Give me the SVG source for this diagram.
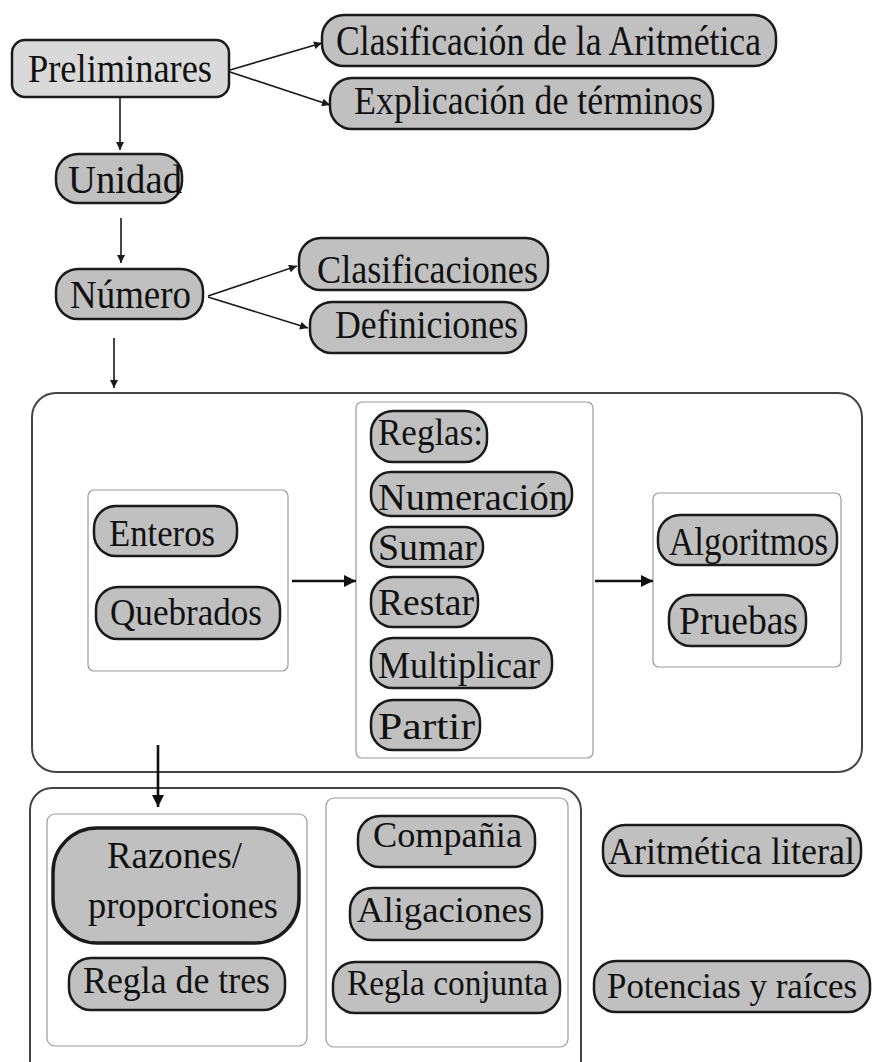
<svg xmlns="http://www.w3.org/2000/svg" width="873" height="1062" viewBox="0 0 873 1062">
  <style>
    .node { fill: #c0c0c0; stroke: #1a1a1a; stroke-width: 2.5; }
    .light { fill: #d9d9d9; }
    .heavy { stroke-width: 3.5; }
    .frame { fill: #ffffff; stroke: #444444; stroke-width: 2; }
    .panel { fill: #ffffff; stroke: #9a9a9a; stroke-width: 1.2; }
    .link { fill: none; stroke: #1a1a1a; stroke-width: 1.6; }
    .link-bold { fill: none; stroke: #111111; stroke-width: 2.6; }
    .label { fill: #111111; font-family: "Liberation Serif", "DejaVu Serif", serif; }
  </style>
  <defs>
    <marker id="head" viewBox="0 0 10 10" refX="10" refY="5" markerWidth="9" markerHeight="8" markerUnits="userSpaceOnUse" orient="auto">
      <path d="M0,0 L10,5 L0,10 z" fill="#1a1a1a"/>
    </marker>
    <marker id="head-bold" viewBox="0 0 10 10" refX="10" refY="5" markerWidth="13" markerHeight="12" markerUnits="userSpaceOnUse" orient="auto">
      <path d="M0,0 L10,5 L0,10 z" fill="#111111"/>
    </marker>
  </defs>

  <!-- outer frames and grouping panels -->
  <g id="frame-operations">
    <rect class="frame" x="32" y="393" width="830" height="379" rx="24"/>
    <rect class="panel" x="88" y="490" width="200" height="181" rx="6"/>
    <rect class="panel" x="356" y="402" width="237" height="356" rx="6"/>
    <rect class="panel" x="653" y="493" width="188" height="174" rx="6"/>
  </g>
  <g id="frame-applications">
    <rect class="frame" x="30" y="788" width="551" height="300" rx="22"/>
    <rect class="panel" x="47" y="814" width="260" height="232" rx="8"/>
    <rect class="panel" x="326" y="798" width="242" height="249" rx="8"/>
  </g>

  <!-- connectors -->
  <g id="connectors">
    <line class="link" x1="230" y1="70" x2="322" y2="43" marker-end="url(#head)"/>
    <line class="link" x1="230" y1="72" x2="330" y2="105" marker-end="url(#head)"/>
    <line class="link" x1="120" y1="98" x2="120" y2="150" marker-end="url(#head)"/>
    <line class="link" x1="121" y1="218" x2="121" y2="263" marker-end="url(#head)"/>
    <line class="link" x1="208" y1="296" x2="297" y2="266" marker-end="url(#head)"/>
    <line class="link" x1="208" y1="297" x2="308" y2="328" marker-end="url(#head)"/>
    <line class="link" x1="114" y1="338" x2="114" y2="388" marker-end="url(#head)"/>
    <line class="link-bold" x1="292" y1="581" x2="356" y2="581" marker-end="url(#head-bold)"/>
    <line class="link-bold" x1="595" y1="581" x2="653" y2="581" marker-end="url(#head-bold)"/>
    <line class="link-bold" x1="158" y1="745" x2="158" y2="807" marker-end="url(#head-bold)"/>
  </g>

  <!-- nodes -->
  <g id="preliminares">
    <rect class="node light" x="12" y="40" width="217" height="57" rx="13"/>
    <text class="label" x="28" y="82" font-size="41" textLength="184" lengthAdjust="spacingAndGlyphs">Preliminares</text>
  </g>
  <g id="clasificacion-aritmetica">
    <rect class="node" x="322" y="15" width="454" height="51" rx="22"/>
    <text class="label" x="336" y="55" font-size="43" textLength="425" lengthAdjust="spacingAndGlyphs">Clasificación de la Aritmética</text>
  </g>
  <g id="explicacion-terminos">
    <rect class="node" x="330" y="78" width="383" height="51" rx="22"/>
    <text class="label" x="354" y="114" font-size="40" textLength="349" lengthAdjust="spacingAndGlyphs">Explicación de términos</text>
  </g>
  <g id="unidad">
    <rect class="node" x="56" y="154" width="126" height="49" rx="22"/>
    <text class="label" x="68" y="193" font-size="40" textLength="114" lengthAdjust="spacingAndGlyphs">Unidad</text>
  </g>
  <g id="numero">
    <rect class="node" x="56" y="269" width="147" height="50" rx="22"/>
    <text class="label" x="70" y="308" font-size="40" textLength="121" lengthAdjust="spacingAndGlyphs">Número</text>
  </g>
  <g id="clasificaciones">
    <rect class="node" x="299" y="238" width="249" height="52" rx="22"/>
    <text class="label" x="317" y="283" font-size="40" textLength="221" lengthAdjust="spacingAndGlyphs">Clasificaciones</text>
  </g>
  <g id="definiciones">
    <rect class="node" x="310" y="302" width="216" height="51" rx="22"/>
    <text class="label" x="335" y="338" font-size="39" textLength="183" lengthAdjust="spacingAndGlyphs">Definiciones</text>
  </g>

  <g id="enteros">
    <rect class="node" x="94" y="506" width="143" height="50" rx="22"/>
    <text class="label" x="109" y="546" font-size="38" textLength="106" lengthAdjust="spacingAndGlyphs">Enteros</text>
  </g>
  <g id="quebrados">
    <rect class="node" x="96" y="587" width="184" height="52" rx="22"/>
    <text class="label" x="110" y="625" font-size="38" textLength="152" lengthAdjust="spacingAndGlyphs">Quebrados</text>
  </g>

  <g id="reglas">
    <rect class="node" x="371" y="411" width="116" height="51" rx="22"/>
    <text class="label" x="378" y="445" font-size="38" textLength="105" lengthAdjust="spacingAndGlyphs">Reglas:</text>
  </g>
  <g id="numeracion">
    <rect class="node" x="371" y="472" width="201" height="44" rx="20"/>
    <text class="label" x="378" y="510" font-size="38" textLength="190" lengthAdjust="spacingAndGlyphs">Numeración</text>
  </g>
  <g id="sumar">
    <rect class="node" x="371" y="527" width="112" height="40" rx="19"/>
    <text class="label" x="378" y="560" font-size="38" textLength="99" lengthAdjust="spacingAndGlyphs">Sumar</text>
  </g>
  <g id="restar">
    <rect class="node" x="371" y="577" width="107" height="50" rx="22"/>
    <text class="label" x="378" y="615" font-size="38" textLength="96" lengthAdjust="spacingAndGlyphs">Restar</text>
  </g>
  <g id="multiplicar">
    <rect class="node" x="371" y="638" width="181" height="50" rx="22"/>
    <text class="label" x="378" y="678" font-size="38" textLength="162" lengthAdjust="spacingAndGlyphs">Multiplicar</text>
  </g>
  <g id="partir">
    <rect class="node" x="371" y="700" width="109" height="50" rx="22"/>
    <text class="label" x="378" y="739" font-size="38" textLength="97" lengthAdjust="spacingAndGlyphs">Partir</text>
  </g>

  <g id="algoritmos">
    <rect class="node" x="658" y="515" width="179" height="50" rx="22"/>
    <text class="label" x="669" y="555" font-size="39" textLength="159" lengthAdjust="spacingAndGlyphs">Algoritmos</text>
  </g>
  <g id="pruebas">
    <rect class="node" x="669" y="595" width="137" height="51" rx="22"/>
    <text class="label" x="679" y="634" font-size="39" textLength="119" lengthAdjust="spacingAndGlyphs">Pruebas</text>
  </g>

  <g id="razones-proporciones">
    <rect class="node heavy" x="53" y="828" width="246" height="115" rx="44"/>
    <text class="label" x="107" y="868" font-size="37" textLength="135" lengthAdjust="spacingAndGlyphs">Razones/</text>
    <text class="label" x="88" y="918" font-size="37" textLength="190" lengthAdjust="spacingAndGlyphs">proporciones</text>
  </g>
  <g id="regla-de-tres">
    <rect class="node" x="69" y="958" width="216" height="52" rx="22"/>
    <text class="label" x="83" y="993" font-size="37" textLength="187" lengthAdjust="spacingAndGlyphs">Regla de tres</text>
  </g>

  <g id="compania">
    <rect class="node" x="358" y="816" width="177" height="51" rx="22"/>
    <text class="label" x="373" y="847" font-size="35" textLength="149" lengthAdjust="spacingAndGlyphs">Compañia</text>
  </g>
  <g id="aligaciones">
    <rect class="node" x="350" y="888" width="192" height="52" rx="22"/>
    <text class="label" x="357" y="922" font-size="35" textLength="175" lengthAdjust="spacingAndGlyphs">Aligaciones</text>
  </g>
  <g id="regla-conjunta">
    <rect class="node" x="333" y="962" width="227" height="51" rx="22"/>
    <text class="label" x="347" y="995" font-size="35" textLength="201" lengthAdjust="spacingAndGlyphs">Regla conjunta</text>
  </g>

  <g id="aritmetica-literal">
    <rect class="node" x="603" y="825" width="258" height="51" rx="22"/>
    <text class="label" x="608" y="864" font-size="38" textLength="247" lengthAdjust="spacingAndGlyphs">Aritmética literal</text>
  </g>
  <g id="potencias-raices">
    <rect class="node" x="594" y="961" width="276" height="51" rx="22"/>
    <text class="label" x="607" y="998" font-size="36" textLength="250" lengthAdjust="spacingAndGlyphs">Potencias y raíces</text>
  </g>
</svg>
